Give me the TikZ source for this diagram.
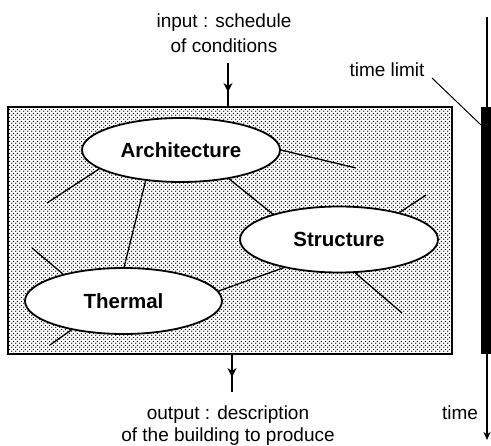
\documentclass[tikz,border=0pt]{standalone}
\usepackage{fontspec}
\setmainfont{Liberation Sans}
\usetikzlibrary{shapes.geometric,patterns.meta,arrows.meta}
\tikzdeclarepattern{
  name=finedots,
  tile size={(3.6pt,3.6pt)},
  bounding box={(0pt,0pt) and (3.6pt,3.6pt)},
  code={
    \fill (0.9pt,0.9pt) circle (0.72pt);
    \fill (2.7pt,2.7pt) circle (0.72pt);
  }
}
\tikzset{
  blob/.style={ellipse, draw, line width=1.8pt, fill=white, inner sep=0pt,
    font=\fontsize{20.5}{24}\selectfont\bfseries},
  link/.style={line width=1.3pt},
  lbl/.style={inner sep=0pt, font=\fontsize{19}{25}\selectfont, align=center},
  outlbl/.style={inner sep=0pt, font=\fontsize{19}{21.5}\selectfont, align=center},
  headarrow/.style={line width=1.4pt, -{Stealth[length=9pt,width=9pt,inset=3pt]}},
}
\begin{document}
\begin{tikzpicture}[x=1pt,y=-1pt]
\useasboundingbox (0,0) rectangle (491,446);
% main box
\node[draw, line width=1.6pt, pattern=finedots, minimum width=444pt, minimum height=247pt, inner sep=0pt] (box) at (230,230.5) {};
% ellipses
\node[blob, minimum width=198pt, minimum height=64pt] (arch) at (181,150) {Architecture};
\node[blob, minimum width=198pt, minimum height=66pt] (str) at (339,239.5) {Structure};
\node[blob, minimum width=197pt, minimum height=66pt] (th) at (123.5,301) {Thermal};
% free ends
\coordinate (a1) at (47,203);
\coordinate (a4) at (356,168);
\coordinate (s5) at (426,195);
\coordinate (s6) at (402,313);
\coordinate (t8) at (32,248);
\coordinate (t9) at (50,345);
% connectors
\draw[link] (arch.193) -- (a1);
\draw[link] (arch.221) -- (th.89);
\draw[link] (arch.329.5) -- (str.159.5);
\draw[link] (arch.0) -- (a4);
\draw[link] (str.24.7) -- (s5);
\draw[link] (str.296) -- (s6);
\draw[link] (str.207) -- (th.6.5);
\draw[link] (th.156) -- (t8);
\draw[link] (th.209.4) -- (t9);
% input
\node[lbl, anchor=north] (inp) at (224,13.4) {input : schedule\\of conditions};
\coordinate (intop) at (228,63);
\coordinate (inhead) at (228,92);
\draw[line width=1.4pt] (intop) -- (intop |- box.north);
\draw[headarrow] (intop) -- (inhead);
% output
\node[outlbl, anchor=north] (outp) at (228,406) {output : description\\of the building to produce};
\coordinate (outbot) at (232,392);
\coordinate (outhead) at (232,377);
\draw[line width=1.4pt] (outbot |- box.south) -- (outbot);
\draw[headarrow] (outbot |- box.south) -- (outhead);
% time axis
\node[fill=black, minimum width=10pt, minimum height=247pt, inner sep=0pt] (bar) at (486,230.5) {};
\coordinate (ttop) at (487,17);
\coordinate (tbot) at (487,440);
\draw[line width=1.2pt, -{Stealth[length=8pt,width=7pt,inset=2.5pt]}] (ttop) -- (tbot);
\node[lbl, anchor=base] (tl) at (387,77) {time limit};
\coordinate (tls) at (432,78);
\coordinate (tle) at (481,125);
\draw[line width=1pt] (tls) -- (tle);
\node[lbl, anchor=base] (tm) at (460,420) {time};
\end{tikzpicture}
\end{document}
